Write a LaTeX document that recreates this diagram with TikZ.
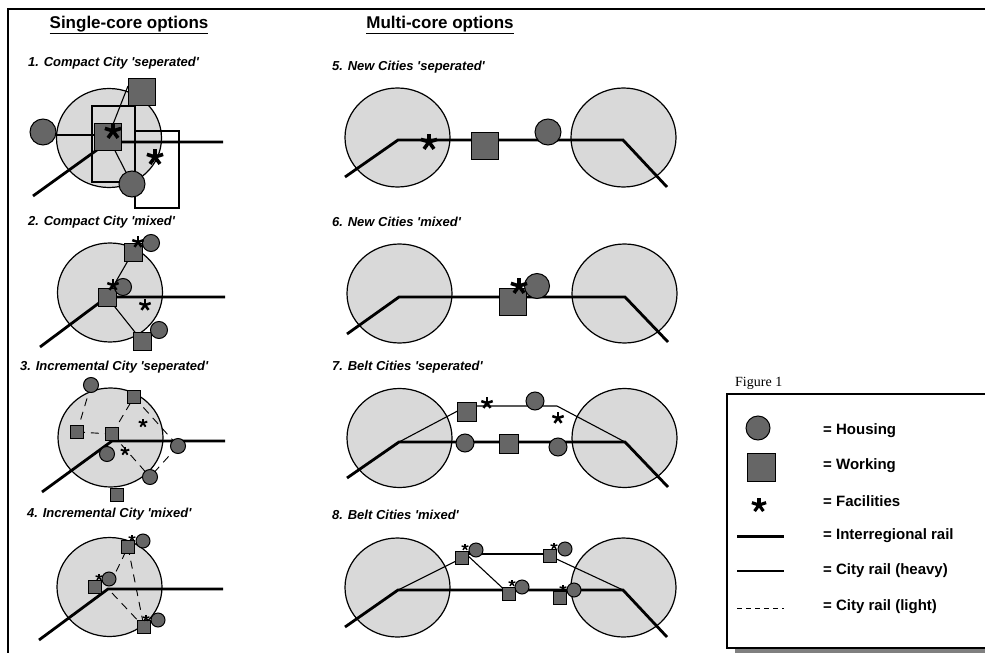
\documentclass[tikz,border=0pt]{standalone}
\usepackage{fontspec}
\setmainfont{Liberation Sans}[Ligatures=TeXOff]
\newfontfamily\figserif{Liberation Serif}
\usetikzlibrary{shapes.geometric}
\definecolor{cityfill}{RGB}{217,217,217}
\definecolor{objfill}{RGB}{102,102,102}
\definecolor{shadowgray}{RGB}{128,128,128}
\pgfdeclarelayer{back}
\pgfdeclarelayer{mid}
\pgfsetlayers{back,mid,main}
\tikzset{
  city/.style={ellipse, draw=black, line width=1.2pt, fill=cityfill, inner sep=0pt, minimum width=105pt, minimum height=99pt},
  house/.style={circle, draw=black, line width=1pt, fill=objfill, inner sep=0pt, minimum size=#1},
  work/.style={rectangle, draw=black, line width=1pt, fill=objfill, inner sep=0pt, minimum size=#1},
  irail/.style={line width=2.8pt},
  hrail/.style={line width=1.1pt},
  lrail/.style={line width=0.9pt, dash pattern=on 8pt off 6pt},
  header/.style={inner sep=0pt, font=\fontsize{17}{20}\selectfont\bfseries},
  ptitle/.style={anchor=west, inner sep=0pt, font=\fontsize{13}{15}\selectfont\bfseries\itshape},
  legtext/.style={anchor=west, inner sep=0pt, font=\fontsize{15}{18}\selectfont\bfseries},
  pics/aster/.style={code={\foreach \a in {270,198,342,126,54}\draw[line width=0.42pt*#1] (0,0) -- (\a:#1);}},
}
\begin{document}
\begin{tikzpicture}[x=1pt,y=-1pt]
\useasboundingbox (0,0) rectangle (985,653);
\clip (0,0) rectangle (985,653);
% frame
\draw[line width=2.2pt] (8,995) -- (8,9) -- (995,9);
% headers
\node[header] (h1) at (129,25) {\underline{Single-core options}};
\node[header] (h2) at (440,25) {\underline{Multi-core options}};
% titles
\node[ptitle] (t1) at (28,63) {1. Compact City 'seperated'};
\node[ptitle] (t2) at (28,222) {2. Compact City 'mixed'};
\node[ptitle] (t3) at (20,367) {3. Incremental City 'seperated'};
\node[ptitle] (t4) at (27,514) {4. Incremental City 'mixed'};
\node[ptitle] (t5) at (332,67) {5. New Cities 'seperated'};
\node[ptitle] (t6) at (332,222) {6. New Cities 'mixed'};
\node[ptitle] (t7) at (332,367) {7. Belt Cities 'seperated'};
\node[ptitle] (t8) at (332,515) {8. Belt Cities 'mixed'};

% ---------- cities (back layer)
\begin{pgfonlayer}{back}
\node[city] (c1) at (109,138) {};
\node[city] (c2) at (110,292.5) {};
\node[city] (c3) at (110.5,437.5) {};
\node[city] (c4) at (109.5,587) {};
\node[city] (c5a) at (397.5,137.5) {};
\node[city] (c5b) at (623.5,137.5) {};
\node[city] (c6a) at (399.5,293.5) {};
\node[city] (c6b) at (624.5,293.5) {};
\node[city] (c7a) at (399.5,438) {};
\node[city] (c7b) at (624.5,438) {};
\node[city] (c8a) at (397.5,587.5) {};
\node[city] (c8b) at (623.5,587.5) {};
\end{pgfonlayer}

% ---------- panel 1
\node[work=27pt] (p1w1) at (142,92) {};
\node[work=27pt] (p1w2) at (108,137) {};
\node[house=26pt] (p1h1) at (43,132) {};
\node[house=26pt] (p1h2) at (132,184) {};
\pic at (113,131) {aster=8.5};
\pic at (155,157) {aster=8.5};
\coordinate (p1a) at (33,196);
\coordinate (p1b) at (108,142);
\coordinate (p1c) at (223,142);
\coordinate (p1d) at (128,86);
\begin{pgfonlayer}{mid}
\draw[hrail] (92,106) rectangle (135,182);
\draw[hrail] (135,131) rectangle (179,208);
\draw[hrail] (p1h1.center |- 0,135) -- (p1w2.center |- 0,135);
\draw[hrail] (p1w2.center) -- (p1d);
\draw[hrail] (p1w2.center) -- (p1h2.center);
\draw[irail] (p1a) -- (p1b) -- (p1c);
\end{pgfonlayer}

% ---------- panel 2
\node[work=18pt] (p2w1) at (133,252) {};
\node[work=18pt] (p2w2) at (107,297) {};
\node[work=18pt] (p2w3) at (142,341) {};
\node[house=17pt] (p2h1) at (151,243) {};
\node[house=17pt] (p2h2) at (123,287) {};
\node[house=17pt] (p2h3) at (159,330) {};
\pic at (138,242) {aster=6};
\pic at (113,285) {aster=6};
\pic at (145,305) {aster=6};
\coordinate (p2a) at (40,347);
\coordinate (p2c) at (225,297);
\begin{pgfonlayer}{mid}
\draw[hrail] (p2w2.center) -- (p2w1.center);
\draw[hrail] (p2w2.center) -- (p2w3.center);
\draw[irail] (p2a) -- (p2w2.center) -- (p2c);
\end{pgfonlayer}

% ---------- panel 3
\node[work=12.5pt] (p3w1) at (134,397) {};
\node[work=12.5pt] (p3w2) at (77,432) {};
\node[work=12.5pt] (p3w3) at (112,434) {};
\node[work=12.5pt] (p3w4) at (117,495) {};
\node[house=15pt] (p3h1) at (91,385) {};
\node[house=15pt] (p3h2) at (107,454) {};
\node[house=15pt] (p3h3) at (178,446) {};
\node[house=15pt] (p3h4) at (150,477) {};
\pic at (143,423) {aster=4.5};
\pic at (125,451) {aster=4.5};
\coordinate (p3a) at (42,492);
\coordinate (p3b) at (112,441);
\coordinate (p3c) at (225,441);
\begin{pgfonlayer}{mid}
\draw[lrail] (p3h1.center) -- (p3w2.center);
\draw[lrail] (p3w2.center) -- (p3w3.center);
\draw[lrail] (p3w3.center) -- (p3w1.center);
\draw[lrail] (p3w1.center) -- (p3h3.center);
\draw[lrail] (p3h3.center) -- (p3h4.center);
\draw[lrail] (p3w3.center) -- (p3h4.center);
\draw[irail] (p3a) -- (p3b) -- (p3c);
\end{pgfonlayer}

% ---------- panel 4
\node[work=12.5pt] (p4w1) at (128,547) {};
\node[work=12.5pt] (p4w2) at (95,587) {};
\node[work=12.5pt] (p4w3) at (144,627) {};
\node[house=14pt] (p4h1) at (143,541) {};
\node[house=14pt] (p4h2) at (109,579) {};
\node[house=14pt] (p4h3) at (158,620) {};
\pic at (132,538) {aster=3.5};
\pic at (99,577) {aster=3.5};
\pic at (146,618) {aster=3.5};
\coordinate (p4a) at (39,640);
\coordinate (p4b) at (108,589);
\coordinate (p4c) at (223,589);
\coordinate (p4d) at (110,584);
\coordinate (p4e) at (112,593);
\begin{pgfonlayer}{mid}
\draw[lrail] (p4d) -- (p4w1.center);
\draw[lrail] (p4w1.center) -- (p4w3.center);
\draw[lrail] (p4e) -- (p4w3.center);
\draw[irail] (p4a) -- (p4b) -- (p4c);
\end{pgfonlayer}

% ---------- panel 5
\node[work=27pt] (p5w1) at (485,146) {};
\node[house=26pt] (p5h1) at (548,132) {};
\pic at (429,142) {aster=8.5};
\coordinate (p5a) at (345,177);
\coordinate (p5b) at (398,140);
\coordinate (p5c) at (623,140);
\coordinate (p5d) at (667,187);
\begin{pgfonlayer}{mid}
\draw[irail] (p5a) -- (p5b) -- (p5c) -- (p5d);
\end{pgfonlayer}

% ---------- panel 6
\node[work=27pt] (p6w1) at (513,302) {};
\node[house=25pt] (p6h1) at (537,286) {};
\pic at (519,286) {aster=8.5};
\coordinate (p6a) at (347,334);
\coordinate (p6b) at (399,297);
\coordinate (p6c) at (625,297);
\coordinate (p6d) at (668,342);
\begin{pgfonlayer}{mid}
\draw[irail] (p6a) -- (p6b) -- (p6c) -- (p6d);
\end{pgfonlayer}

% ---------- panel 7
\node[work=19pt] (p7w1) at (467,412) {};
\node[work=19pt] (p7w2) at (509,444) {};
\node[house=18pt] (p7h1) at (535,401) {};
\node[house=18pt] (p7h2) at (465,443) {};
\node[house=18pt] (p7h3) at (558,447) {};
\pic at (487,403) {aster=6};
\pic at (558,418) {aster=6};
\coordinate (p7a) at (347,478);
\coordinate (p7b) at (399,442);
\coordinate (p7c) at (625,442);
\coordinate (p7d) at (668,487);
\coordinate (p7e) at (467,406);
\coordinate (p7f) at (557,406);
\begin{pgfonlayer}{mid}
\draw[hrail] (p7b) -- (p7e) -- (p7f) -- (p7c);
\draw[irail] (p7a) -- (p7b) -- (p7c) -- (p7d);
\end{pgfonlayer}

% ---------- panel 8
\node[work=13.5pt] (p8w1) at (462,558) {};
\node[work=13.5pt] (p8w2) at (550,556) {};
\node[work=13.5pt] (p8w3) at (509,594) {};
\node[work=13.5pt] (p8w4) at (560,598) {};
\node[house=14pt] (p8h1) at (476,550) {};
\node[house=14pt] (p8h2) at (565,549) {};
\node[house=14pt] (p8h3) at (522,587) {};
\node[house=14pt] (p8h4) at (574,590) {};
\pic at (465,547) {aster=3.5};
\pic at (554,546) {aster=3.5};
\pic at (512,583) {aster=3.5};
\pic at (563,588) {aster=3.5};
\coordinate (p8a) at (345,627);
\coordinate (p8b) at (398,590);
\coordinate (p8c) at (623,590);
\coordinate (p8d) at (667,637);
\coordinate (p8e) at (466,554);
\coordinate (p8f) at (550,554);
\begin{pgfonlayer}{mid}
\draw[hrail] (p8b) -- (p8w1.center);
\draw[hrail] (p8e) -- (p8f);
\draw[hrail] (p8w2.center) -- (p8c);
\draw[hrail] (p8e) -- (p8w3.center);
\draw[irail] (p8a) -- (p8b) -- (p8c) -- (p8d);
\end{pgfonlayer}

% ---------- legend
\node[anchor=west, inner sep=0pt, font=\figserif\fontsize{14}{16}\selectfont] (fig) at (735,383) {Figure 1};
\fill[shadowgray] (735,648) rectangle (995,660);
\draw[line width=1.4pt, fill=white] (727,394) rectangle (995,648);
\node[house=24pt] (lh) at (758,428) {};
\node[work=28pt] (lw) at (761,467) {};
\pic at (759,505) {aster=7.5};
\coordinate (li1) at (737,536);
\coordinate (li2) at (784,536);
\coordinate (lh1) at (737,571);
\coordinate (lh2) at (784,571);
\coordinate (ll1) at (737,608);
\coordinate (ll2) at (784,608);
\draw[line width=3pt] (li1) -- (li2);
\draw[line width=1.3pt] (lh1) -- (lh2);
\draw[line width=0.8pt, dash pattern=on 5pt off 4pt] (ll1) -- (ll2);
\node[legtext] (lt1) at (823,431) {= Housing};
\node[legtext] (lt2) at (823,466) {= Working};
\node[legtext] (lt3) at (823,501) {= Facilities};
\node[legtext] (lt4) at (823,536) {= Interregional rail};
\node[legtext] (lt5) at (823,571) {= City rail (heavy)};
\node[legtext] (lt6) at (823,607) {= City rail (light)};
\end{tikzpicture}
\end{document}
